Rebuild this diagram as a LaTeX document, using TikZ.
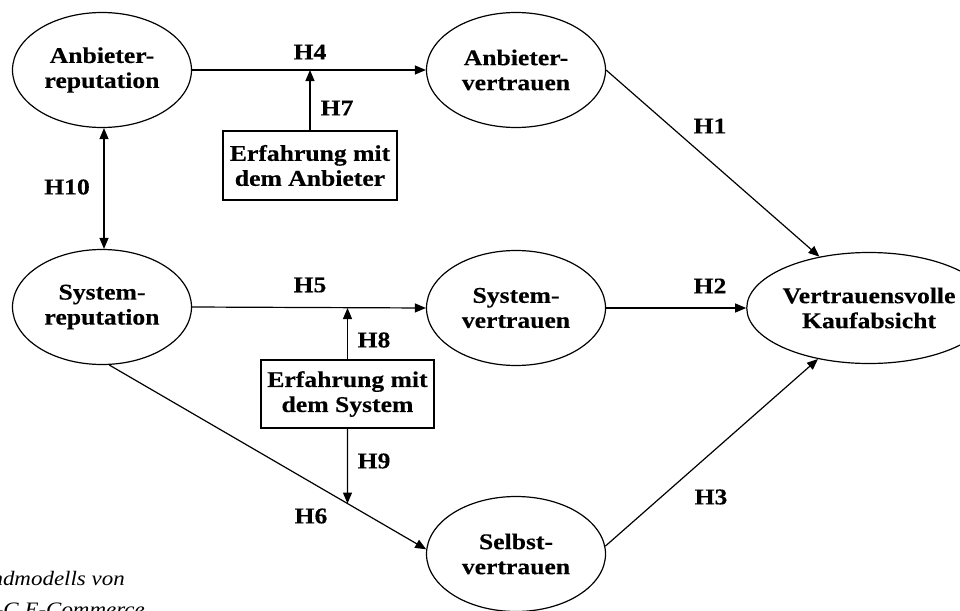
\documentclass[tikz,border=0pt]{standalone}
\usepackage{fontspec}
\setmainfont[FakeStretch=1.14,BoldFeatures={FakeStretch=1.14,FakeBold=0.25},ItalicFeatures={FakeStretch=1.12}]{Liberation Serif}
\usetikzlibrary{shapes.geometric,arrows.meta,intersections}
\begin{document}
\begin{tikzpicture}[x=1pt,y=-1pt,
  every node/.style={font=\fontsize{22.5}{25}\selectfont\bfseries},
  construct/.style={ellipse,draw,line width=1.2pt,inner sep=0pt,minimum width=179pt,minimum height=115pt,align=center},
  modbox/.style={rectangle,draw,line width=1.2pt,inner sep=0pt,minimum width=174pt,minimum height=69pt,align=center},
  conn/.style={line width=1.2pt,-{Triangle[length=11pt,width=9pt]}},
  biconn/.style={line width=1.2pt,{Triangle[length=11pt,width=9pt]}-{Triangle[length=11pt,width=9pt]}},
  hlabel/.style={inner sep=0pt},
  capt/.style={font=\fontsize{20.5}{25}\selectfont\itshape,inner sep=0pt,anchor=base east}]
\useasboundingbox (0,0) rectangle (960,610);
\clip (0,0) rectangle (960,610);
\fill[white] (0,0) rectangle (960,610);

\node[construct] (ar) at (102,70) {Anbieter-\\reputation};
\node[construct] (av) at (516,70) {Anbieter-\\vertrauen};
\node[construct] (sr) at (102,307) {System-\\reputation};
\node[construct] (svt) at (516,308) {System-\\vertrauen};
\node[construct] (selb) at (516,554) {Selbst-\\vertrauen};
\node[construct,minimum width=172pt,minimum height=111pt] (vk) at (869,308) {Vertrauensvolle\\Kaufabsicht};

\node[modbox] (ea) at (310,165.5) {Erfahrung mit\\dem Anbieter};
\node[modbox,minimum width=173pt,minimum height=68pt] (es) at (347.5,394) {Erfahrung mit\\dem System};

% main paths
\draw[conn] (ar.east) -- (av.west);
\draw[conn] (sr.east) -- (svt.west);
\draw[conn] (av.east) -- (vk.134);
\draw[conn] (svt.east) -- (vk.west);
\draw[conn] (selb.5) -- (vk.225);
\draw[biconn] (ar.south -| 104,0) -- (sr.north -| 104,0);
\draw[conn,name path=h6] (sr.-83) -- (selb.177);

% moderators
\coordinate (m7) at (ea.north |- ar.east);
\draw[conn] (ea.north) -- (m7);
\coordinate (m8) at (es.north |- svt.west);
\draw[conn] (es.north) -- (m8);
\path[name path=v9] (es.south) -- ++(0,200);
\path[name intersections={of=h6 and v9,by=m9}];
\draw[conn] (es.south) -- (m9);

% labels
\node[hlabel] (h4) at (310,52) {H4};
\node[hlabel] (h7) at (337,108) {H7};
\node[hlabel] (h10) at (67,187) {H10};
\node[hlabel] (h1) at (710,126) {H1};
\node[hlabel] (h2) at (710,286) {H2};
\node[hlabel] (h5) at (310,285) {H5};
\node[hlabel] (h8) at (374,340) {H8};
\node[hlabel] (h9) at (374,461) {H9};
\node[hlabel] (h6) at (311,516) {H6};
\node[hlabel] (h3) at (711,497) {H3};

% cut caption
\node[capt] (c1) at (125,585) {ndmodells von};
\node[capt] (c2) at (145,616) {-C E-Commerce};
\end{tikzpicture}
\end{document}
